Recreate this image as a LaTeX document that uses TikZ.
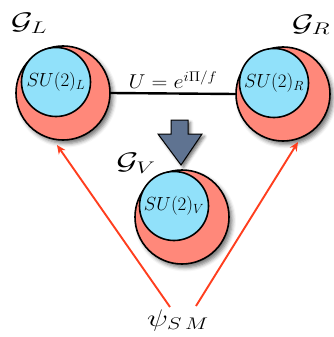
\RequirePackage{fix-cm}
\documentclass[tikz,border=0pt]{standalone}
\usepackage{graphicx}
\usetikzlibrary{shadows.blur,arrows.meta}
\definecolor{salmon}{RGB}{255,136,122}
\definecolor{skyb}{RGB}{145,225,250}
\definecolor{slate}{RGB}{95,115,145}
\definecolor{redor}{RGB}{255,62,30}
\begin{document}
\begin{tikzpicture}[x=1pt,y=-1pt,
  outer/.style={circle,draw,line width=1.6pt,fill=salmon,minimum size=94pt,inner sep=0pt,
    blur shadow={shadow xshift=3pt,shadow yshift=-3.5pt,shadow blur radius=4pt,shadow opacity=55}},
  inner/.style={circle,draw,line width=1.6pt,fill=skyb,minimum size=69pt,inner sep=0pt,
    font=\fontsize{19}{21}\selectfont},
  glabel/.style={font=\fontsize{24}{26}\selectfont,inner sep=0pt},
  redarrow/.style={draw=redor,line width=1.9pt,-{Stealth[length=9pt,width=8pt]}},
]
\useasboundingbox (0,0) rectangle (334,337);
% big circles
\node[outer] (L) at (63,93) {};
\node[inner] (Li) at (56,82) {$SU(2)_L$};
\node[outer] (R) at (283,94) {};
\node[inner] (Ri) at (274,83) {$SU(2)_R$};
\node[outer] (V) at (182,217) {};
\node[inner] (Vi) at (174,206) {$SU(2)_V$};
% connecting line
\draw[line width=2.4pt] (L.east) -- (R.west)
  node[midway,above=0pt,font=\fontsize{20}{22}\selectfont] (U) {\scalebox{1.1}[1]{$U=e^{i\Pi/f}$}};
% labels
\node[glabel] (GL) at (29,23) {\scalebox{1.4}[1]{$\mathcal{G}_L$}};
\node[glabel] (GR) at (311,25) {\scalebox{1.4}[1]{$\mathcal{G}_R$}};
\node[glabel] (GV) at (136,163) {\scalebox{1.4}[1]{$\mathcal{G}_V$}};
% block arrow
\path[fill=slate,draw=black,line width=1pt,
  blur shadow={shadow xshift=2.5pt,shadow yshift=-2.5pt,shadow blur radius=3pt,shadow opacity=55}]
  (171,120) -- (188,120) -- (188,134) -- (202,134) -- (181,165) -- (158,134) -- (171,134) -- cycle;
% psi
\node[font=\fontsize{24}{26}\selectfont,inner sep=0pt] (psi) at (178,320) {\scalebox{1.3}[1]{$\psi_{S\,M}$}};
\coordinate (pl) at (170,307);
\coordinate (pr) at (196,306);
\coordinate (tl) at (57,145);
\coordinate (tr) at (298,142);
\draw[redarrow] (pl) -- (tl);
\draw[redarrow] (pr) -- (tr);
\end{tikzpicture}
\end{document}
